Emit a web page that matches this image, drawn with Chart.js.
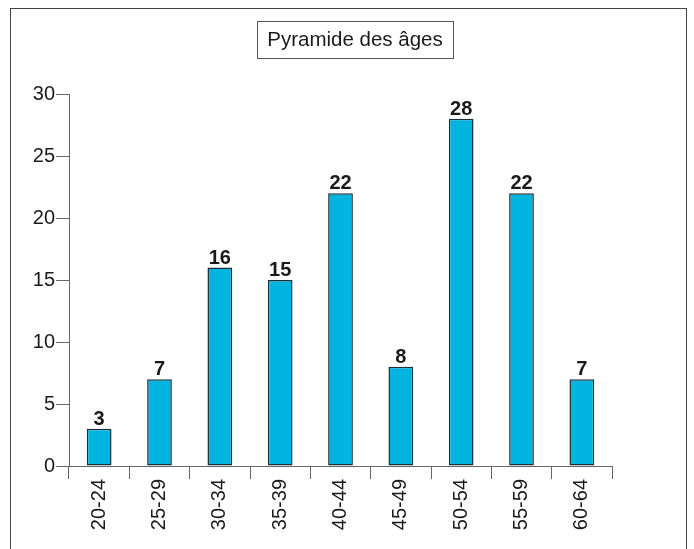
<!DOCTYPE html>
<html>
<head>
<meta charset="utf-8">
<script src="https://cdn.jsdelivr.net/npm/chart.js@4"></script>
<style>
html,body{margin:0;padding:0;background:#fff;}
#wrap{position:relative;width:694px;height:549px;}
</style>
</head>
<body>
<div id="wrap"><canvas id="c" width="694" height="549"></canvas></div>
<script>
const chartTitle = "Pyramide des âges";
const categories = ["20-24","25-29","30-34","35-39","40-44","45-49","50-54","55-59","60-64"];
const values = [3, 7, 16, 15, 22, 8, 28, 22, 7];
const yTicks = [0, 5, 10, 15, 20, 25, 30];

const FONT = "'Liberation Sans', Arial, Helvetica, sans-serif";

const decorPlugin = {
  id: 'decor',
  beforeDraw(chart) {
    const ctx = chart.ctx;
    ctx.save();
    ctx.fillStyle = '#fff';
    ctx.fillRect(0, 0, chart.width, chart.height);
    ctx.strokeStyle = '#444';
    ctx.lineWidth = 1;
    ctx.strokeRect(10.5, 8.5, 676, 600);
    ctx.font = '20.5px ' + FONT;
    ctx.fillStyle = '#1a1a1a';
    ctx.textAlign = 'center';
    ctx.textBaseline = 'middle';
    ctx.strokeStyle = '#555';
    ctx.strokeRect(257.5, 21.5, 196, 37);
    ctx.fillText(chartTitle, 355, 40);
    ctx.restore();
  },
  afterDatasetsDraw(chart) {
    const ctx = chart.ctx;
    const meta = chart.getDatasetMeta(0);
    ctx.save();
    ctx.font = 'bold 20px ' + FONT;
    ctx.fillStyle = '#1a1a1a';
    ctx.textAlign = 'center';
    ctx.textBaseline = 'alphabetic';
    meta.data.forEach((bar, i) => {
      ctx.fillText(String(values[i]), bar.x, bar.y - 4);
    });
    ctx.restore();
  }
};

new Chart(document.getElementById('c'), {
  type: 'bar',
  data: {
    labels: categories,
    datasets: [{
      data: values,
      backgroundColor: '#00b4e0',
      borderColor: '#1a2f38',
      borderWidth: 1.5,
      borderSkipped: false,
      barPercentage: 0.41,
      categoryPercentage: 1.0
    }]
  },
  options: {
    responsive: false,
    animation: false,
    layout: { padding: { left: 0, right: 82, top: 94, bottom: 0 } },
    plugins: {
      legend: { display: false },
      title: { display: false },
      tooltip: { enabled: false }
    },
    scales: {
      x: {
        offset: true,
        grid: {
          offset: true,
          drawOnChartArea: false,
          drawTicks: true,
          tickLength: 13,
          color: '#666',
          lineWidth: 1
        },
        border: { display: true, color: '#666', width: 1 },
        ticks: {
          color: '#1a1a1a',
          font: { family: FONT, size: 20 },
          minRotation: 90,
          maxRotation: 90,
          padding: 0,
          autoSkip: false
        },
        afterFit(scale) { scale.height = 83; }
      },
      y: {
        min: 0,
        max: 30,
        afterBuildTicks(scale) { scale.ticks = yTicks.map(v => ({ value: v })); },
        grid: {
          drawOnChartArea: false,
          drawTicks: true,
          tickLength: 13,
          color: '#666',
          lineWidth: 1
        },
        border: { display: true, color: '#666', width: 1 },
        ticks: {
          color: '#1a1a1a',
          font: { family: FONT, size: 20 },
          padding: 1
        },
        afterFit(scale) { scale.width = 69; }
      }
    }
  },
  plugins: [decorPlugin]
});
</script>
</body>
</html>
